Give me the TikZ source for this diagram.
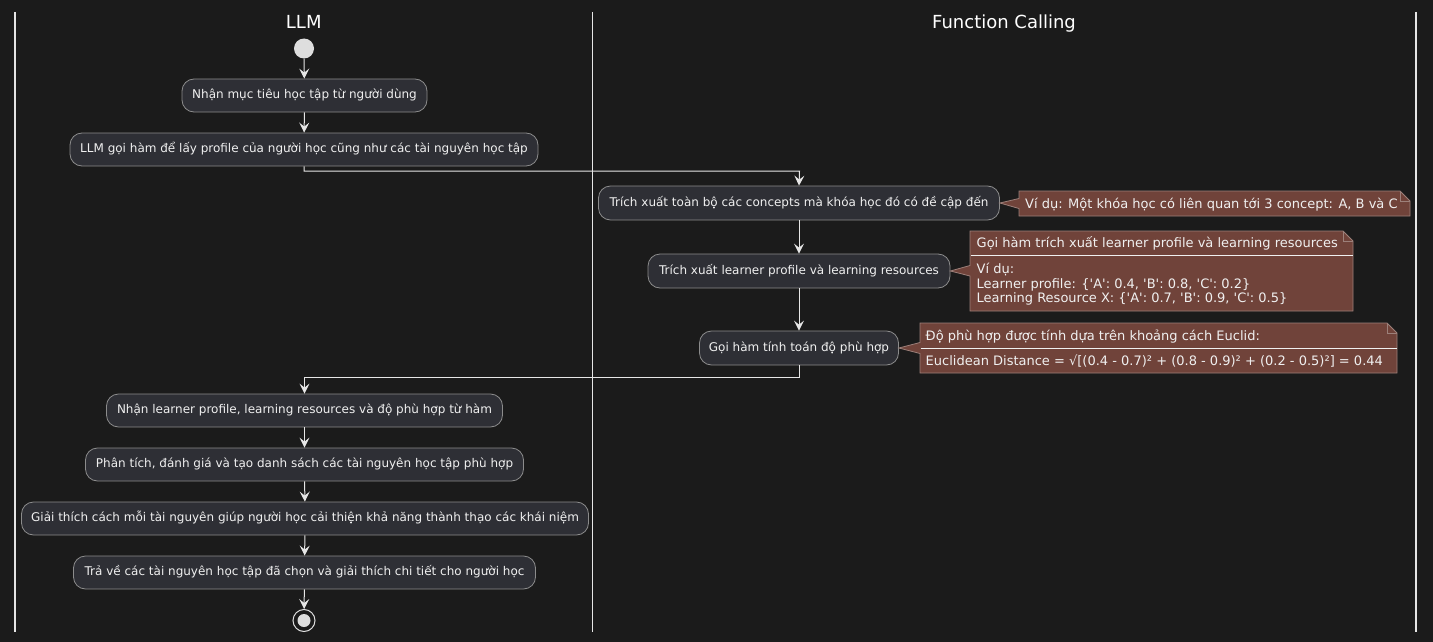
\documentclass[tikz,border=0pt]{standalone}
\usepackage{fontspec}
\setmainfont{DejaVu Sans}[Ligatures=TeXOff]
\usetikzlibrary{arrows.meta}
\definecolor{bg}{HTML}{1B1B1B}
\definecolor{boxfill}{HTML}{2E2F35}
\definecolor{boxline}{HTML}{8C8C8C}
\definecolor{notefill}{HTML}{70433A}
\definecolor{noteline}{HTML}{9C807A}
\definecolor{fg}{HTML}{F0F0F0}
\definecolor{linec}{HTML}{E6E6E6}
\definecolor{dot}{HTML}{DEDEDE}
\tikzset{
  act/.style={draw=boxline, fill=boxfill, rounded corners=12pt, line width=0.8pt,
    text=fg, font=\fontsize{12}{14}\selectfont, inner sep=0pt,
    text height=9pt, text depth=3pt, align=center},
  conn/.style={draw=linec, line width=1pt, -{Stealth[length=10pt,width=10pt,inset=4pt]}},
  lane/.style={draw=linec, line width=1.5pt},
  lanetitle/.style={text=white, font=\fontsize{18}{21}\selectfont, inner sep=0pt, anchor=base},
  noteshape/.style={fill=notefill, draw=noteline, line width=0.8pt, line join=miter},
  notetext/.style={text=fg, font=\fontsize{13}{15}\selectfont, inner sep=0pt, anchor=base west, align=left},
}
\begin{document}
\begin{tikzpicture}[x=1pt,y=-1pt]
\fill[bg] (0,0) rectangle (1433,642);
\useasboundingbox (0,0) rectangle (1433,642);

% swimlanes
\draw[lane] (15,12) -- (15,632);
\draw[lane] (592.5,12) -- (592.5,632);
\draw[lane] (1416,12) -- (1416,632);
\node[lanetitle] (tllm) at (303.75,28.5) {LLM};
\node[lanetitle] (tfc) at (1004,28.5) {Function Calling};

% start
\node[circle, fill=dot, minimum size=20pt, inner sep=0pt] (start) at (304,48.5) {};

% activities
\node[act, minimum width=245pt, minimum height=33pt] (b1) at (304.5,95.5) {Nhận mục tiêu học tập từ người dùng};
\node[act, minimum width=468pt, minimum height=33pt] (b2) at (304,149.5) {LLM gọi hàm để lấy profile của người học cũng như các tài nguyên học tập};
\node[act, minimum width=401pt, minimum height=34pt] (b3) at (799,203) {Trích xuất toàn bộ các concepts mà khóa học đó có đề cập đến};
\node[act, minimum width=302pt, minimum height=34pt] (b4) at (799,271) {Trích xuất learner profile và learning resources};
\node[act, minimum width=199pt, minimum height=34pt] (b5) at (799,348) {Gọi hàm tính toán độ phù hợp};
\node[act, minimum width=396pt, minimum height=33pt] (b6) at (304.5,410.5) {Nhận learner profile, learning resources và độ phù hợp từ hàm};
\node[act, minimum width=438pt, minimum height=33pt] (b7) at (304.5,464.5) {Phân tích, đánh giá và tạo danh sách các tài nguyên học tập phù hợp};
\node[act, minimum width=567pt, minimum height=33pt] (b8) at (305,518.5) {Giải thích cách mỗi tài nguyên giúp người học cải thiện khả năng thành thạo các khái niệm};
\node[act, minimum width=462pt, minimum height=33pt] (b9) at (304.5,572.5) {Trả về các tài nguyên học tập đã chọn và giải thích chi tiết cho người học};

% end
\node[circle, draw=dot, line width=1pt, fill=bg, minimum size=22pt, inner sep=0pt] (stop) at (304,620.5) {};
\fill[dot] (stop.center) circle (6.5);

% connectors
\coordinate (j1) at (799.5,171);
\coordinate (j2) at (304.5,377.5);
\draw[conn] (start) -- (b1);
\draw[conn] (b1) -- (b2);
\draw[conn] (b2.south) |- (j1) -- (b3.north);
\draw[conn] (b3) -- (b4);
\draw[conn] (b4) -- (b5);
\draw[conn] (b5.south) |- (j2) -- (b6.north);
\draw[conn] (b6) -- (b7);
\draw[conn] (b7) -- (b8);
\draw[conn] (b8) -- (b9);
\draw[conn] (b9) -- (stop);

% note 1
\draw[noteshape] (1019,191) -- (1400,191) -- (1410,201) -- (1410,216) -- (1019,216)
  -- (1019,208.5) -- (b3.east) -- (1019,198.5) -- cycle;
\draw[noteshape, fill=none] (1400,191) -- (1400,201) -- (1410,201);
\node[notetext] (n1) at (1025,208) {Ví dụ: Một khóa học có liên quan tới 3 concept: A, B và C};

% note 2
\draw[noteshape] (970,231) -- (1343,231) -- (1353,241) -- (1353,311) -- (970,311)
  -- (970,276) -- (b4.east) -- (970,265.5) -- cycle;
\draw[noteshape, fill=none] (1343,231) -- (1343,241) -- (1353,241);
\draw[draw=fg, line width=0.8pt] (970.5,255.5) -- (1352.5,255.5);
\node[notetext] (n2t) at (976.5,247.5) {Gọi hàm trích xuất learner profile và learning resources};
\node[notetext] (n2a) at (976.5,273.5) {Ví dụ:};
\node[notetext] (n2b) at (976.5,288) {Learner profile: \{'A': 0.4, 'B': 0.8, 'C': 0.2\}};
\node[notetext] (n2c) at (976.5,302.5) {Learning Resource X: \{'A': 0.7, 'B': 0.9, 'C': 0.5\}};

% note 3
\draw[noteshape] (920,323) -- (1387,323) -- (1397,333) -- (1397,373) -- (920,373)
  -- (920,353.5) -- (b5.east) -- (920,342.5) -- cycle;
\draw[noteshape, fill=none] (1387,323) -- (1387,333) -- (1397,333);
\draw[draw=fg, line width=0.8pt] (920.5,348.5) -- (1396.5,348.5);
\node[notetext] (n3t) at (925.5,340) {Độ phù hợp được tính dựa trên khoảng cách Euclid:};
\node[notetext] (n3b) at (925.5,365.5) {Euclidean Distance = √[(0.4 - 0.7)² + (0.8 - 0.9)² + (0.2 - 0.5)²] = 0.44};
\end{tikzpicture}
\end{document}
